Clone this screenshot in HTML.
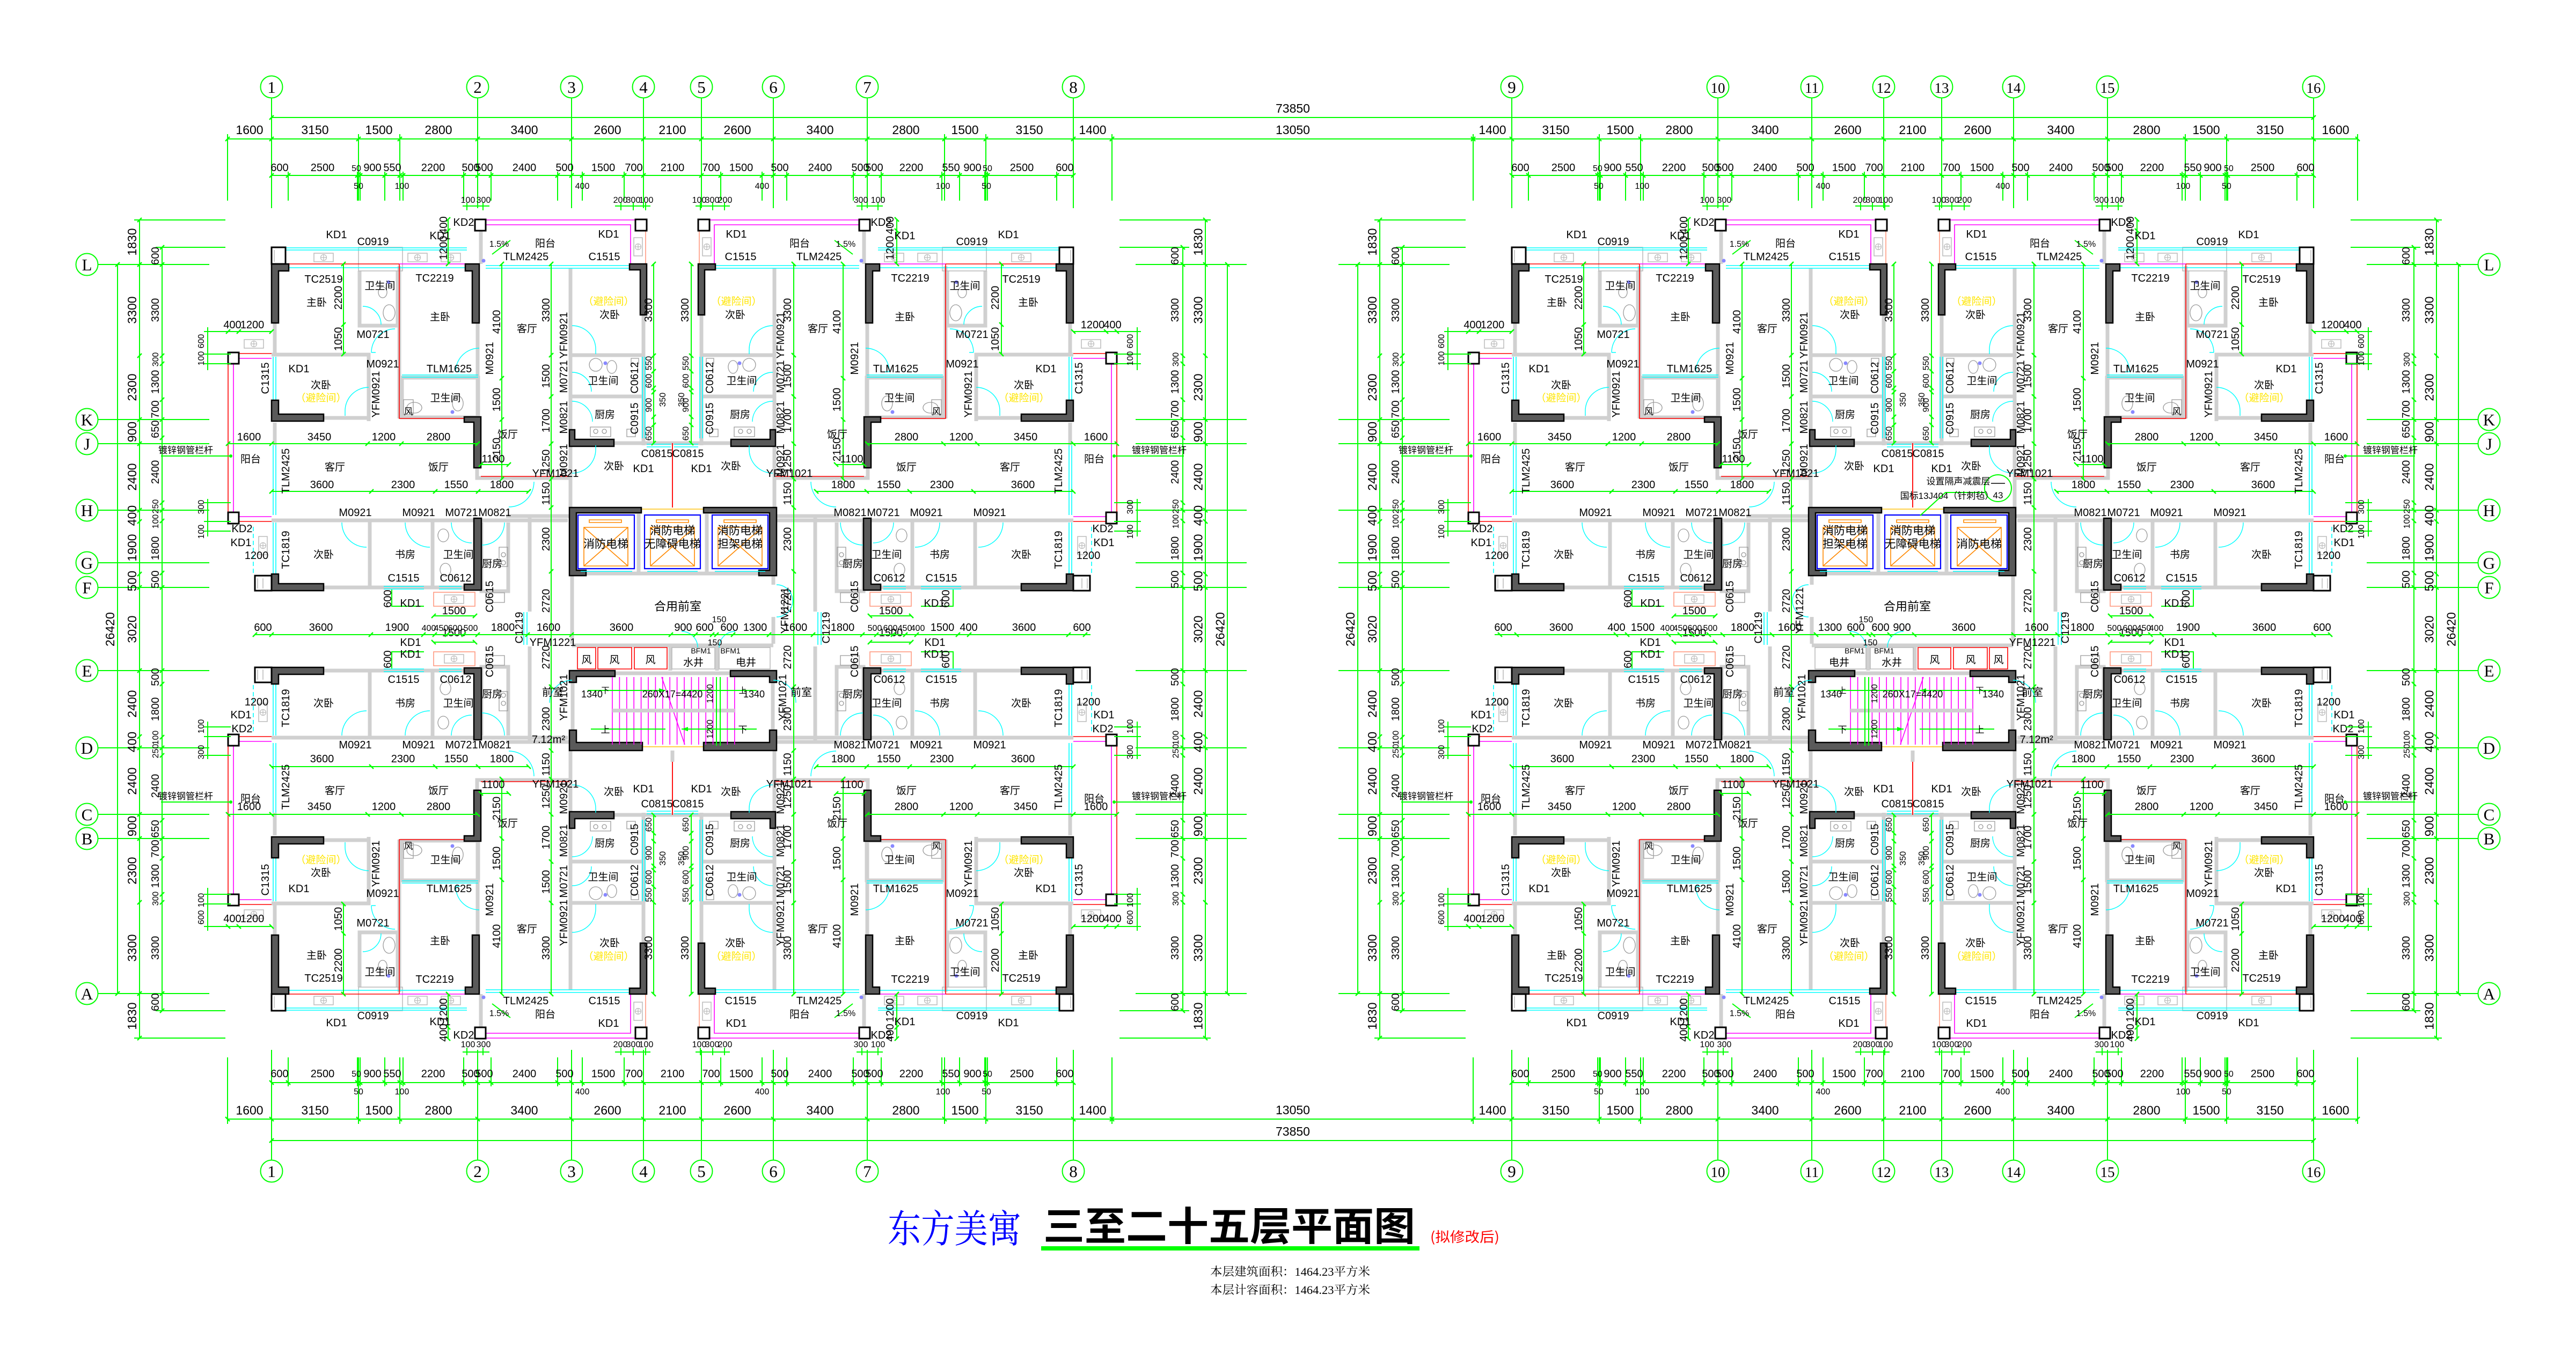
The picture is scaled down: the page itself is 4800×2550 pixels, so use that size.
<!DOCTYPE html>
<html><head><meta charset="utf-8">
<style>
html,body{margin:0;padding:0;background:#fff;}
svg{display:block}
text{font-family:"Liberation Sans Narrow","Liberation Sans","Noto Sans CJK SC",sans-serif;font-stretch:condensed;text-anchor:middle;fill:#000;transform-box:fill-box;transform-origin:50% 50%;transform:scale(var(--sx,1),var(--sy,1));}
text.v{transform:scale(var(--sy,1),var(--sx,1));}
.oa text{transform-origin:50% calc(0.905em + 9px)}
.ob text{transform-origin:50% calc(0.905em + 8px)}
.oc text{transform-origin:50% calc(0.905em - 25px)}
.od text{transform-origin:50% calc(0.905em + 6px)}
.ov6 text{transform-origin:50% calc(0.905em + 6px)}
.ov3 text{transform-origin:50% calc(0.905em + 3px)}
.n{font-size:20px}
.m{font-size:23px}
.s{font-size:16px}
.c{font-family:"Liberation Sans","Noto Sans CJK SC",sans-serif;font-size:19px}
.yt{fill:#ffe600}
.ax{font-family:"Liberation Serif","DejaVu Serif",serif;font-size:31px}
.st{text-anchor:start}
.w{fill:none;stroke:#d0d0d0;stroke-width:7}
.gw{fill:none;stroke:#b8b8b8;stroke-width:1.5}
.k{fill:#5a5a5a;stroke:#000;stroke-width:2.5}
.bx{fill:#fff;stroke:#000;stroke-width:3}
.g{fill:none;stroke:#00ff00;stroke-width:2}
.tk{fill:none;stroke:#00ff00;stroke-width:2.4}
.cy{fill:none;stroke:#00ffff;stroke-width:1.6}
.rd{fill:none;stroke:#ff0000;stroke-width:1.6}
.pk{fill:none;stroke:#ff00ff;stroke-width:1.6}
.sa{fill:none;stroke:#ff9980;stroke-width:1.6}
.yl{fill:none;stroke:#ffcc33;stroke-width:1.8}
.dr{fill:none;stroke:#00ffff;stroke-width:1.4}
.fx{fill:none;stroke:#9a9a9a;stroke-width:1.3}
.bu{fill:none;stroke:#0000ff;stroke-width:2.2}
.or{fill:none;stroke:#ff8800;stroke-width:1.6}
.acir{fill:#fff;stroke:#00ff00;stroke-width:2}
</style></head>
<body>
<svg width="4800" height="2550" viewBox="0 0 4800 2550" xmlns="http://www.w3.org/2000/svg" xmlns:xlink="http://www.w3.org/1999/xlink">
<defs>
<g id="ac"><rect width="36" height="16" fill="none" stroke="#bbb" stroke-width="1.5"/><circle cx="18" cy="8" r="5.5" fill="none" stroke="#bbb" stroke-width="1.2"/><path d="M12.5 8h11M18 2.5v11" stroke="#bbb" stroke-width="1.2"/></g>
<g id="acv"><rect width="16" height="34" fill="none" stroke="#bbb" stroke-width="1.5"/><circle cx="8" cy="17" r="5.5" fill="none" stroke="#bbb" stroke-width="1.2"/><path d="M2.5 17h11M8 11.5v11" stroke="#bbb" stroke-width="1.2"/></g>

<!-- ================= UNIT (top-left quarter) ================= -->
<g id="U">
<path class="w" d="M512 602V662M506 661H687V785M603 779H687M670 505V607H741V505M744 496V780M749 704V778H891V704ZM890 602V777M889 872V891H1063M1063 500V946M1066 662H1199M1066 739H1199M1199 587V830M1144 826H1253M512 788V830M506 970H1058M689 970V1095M806 970V1095M603 1095H865M897 974V1102H947V974M987 962V1140M943 962H1061M896 430V492"/>
<rect class="gw" x="668" y="461" width="82" height="44"/>
<path class="cy" d="M532 462H870M532 466H870M538 499H870M905 495H1173M905 500H1173M509 665V746M514 665V746M509 830V960M514 830V960M509 974V1070M514 974V1070M749 699H891M749 703H891M1197 665V817M1202 665V817M1205 828H1250M1205 833H1250M715 1093H790M715 1098H790M818 1093H860M818 1098H860"/>
<path class="cy" stroke-dasharray="8 5" d="M472 982V1070"/>
<path class="rd" d="M538 492H744V780H867M425 678V955M445 659H506M445 972H506M896 888H1061M1253 826V946"/>
<path class="pk" d="M744 492H870M905 410H1184M905 419H1175V492M435 678V955M445 668H506M445 963H506"/>
<path class="sa" d="M1203 430V492"/>
<rect class="sa" x="808" y="1104" width="77" height="26"/>
<path class="k" d="M506 492H538V505H519V602H506Z"/>
<path class="k" d="M506 746H519V772H603V785H506Z"/>
<path class="k" d="M867 492H893V602H880V505H867Z"/>
<path class="k" d="M865 777H896V872H883V787H865Z"/>
<path class="k" d="M1173 492H1205V587H1193V503H1173Z"/>
<path class="k" d="M1061 801H1071V819H1144V832H1061Z"/>
<path class="k" d="M506 1070H519V1088H603V1101H506Z"/>
<path class="k" d="M883 966H897V1100H865V1089H883Z"/>
<rect class="bx" x="506" y="461" width="26" height="31"/>
<rect class="bx" x="885" y="409" width="20" height="21"/>
<rect class="bx" x="1184" y="409" width="21" height="21"/>
<rect class="bx" x="425" y="657" width="20" height="21"/>
<rect class="bx" x="425" y="955" width="20" height="21"/>
<rect class="bx" x="475" y="1073" width="31" height="28"/>
<path class="gw" d="M511 466V488M480 1078V1097M490 1078V1097"/>
<use href="#ac" x="585" y="472"/><use href="#ac" x="760" y="472"/><use href="#ac" x="822" y="472"/>
<use href="#ac" x="455" y="633"/><use href="#ac" x="828" y="1109"/>
<use href="#acv" x="1181" y="443"/><use href="#acv" x="482" y="1000"/>
<path class="dr" d="M687 722A44 44 0 0 0 643 766M736 613A44 44 0 0 0 692 657M893 649A44 44 0 0 0 849 693M1066 607A44 44 0 0 1 1110 651M1066 694A36 36 0 0 1 1102 730M1066 748A38 38 0 0 1 1104 786M1066 882A44 44 0 0 0 1110 838M995 898A47 47 0 0 1 948 945M637 974A46 46 0 0 0 683 1020M755 974A46 46 0 0 0 801 1020M841 974A38 38 0 0 0 879 1012M940 974A42 42 0 0 1 898 1016M676 571A34 34 0 0 1 710 605M643 766V775M692 657H700M849 693H857M1110 651V660M1110 838V830"/>
<path class="fx" d="M713 535a8 10 0 1 0 .1 0M725 568a11 15 0 1 0 .1 0M772 750a14 10 0 1 0 .1 0M853 738a10 14 0 1 0 .1 0M752 745h18v28h-18zM930 1020h16v36h-16zM938 1030a4 4 0 1 0 .1 0M938 1045a4 4 0 1 0 .1 0M905 1105h35v18h-35zM1110 668a12 12 0 1 0 .1 0M1140 672a9 12 0 1 0 .1 0M1176 668h14v10h-14zM1100 796h38v18h-38zM1110 800a4 4 0 1 0 .1 0M1126 800a4 4 0 1 0 .1 0M1168 800h16v14h-16zM826 986a10 12 0 1 0 .1 0M830 1050a10 12 0 1 0 .1 0"/>
<circle cx="901" cy="486" r="3.5" fill="#88f"/><circle cx="724" cy="526" r="3.5" fill="#88f"/><circle cx="843" cy="768" r="3.5" fill="#88f"/><circle cx="1128" cy="677" r="3.5" fill="#88f"/>
<path class="g" d="M917 474L951 448M425 827H890M506 916H985M935 492V893M1027 492V1172M640 492V660M896 866H948M808 1148H885M730 1099V1130H790M835 409V492M425 618H506M1218 492V826"/>
<path class="tk" d="M421 831l8-8M502 831l8-8M681 831l8-8M744 831l8-8M886 831l8-8M502 920l8-8M688 920l8-8M807 920l8-8M887 920l8-8M981 920l8-8M931 496l8-8M931 709l8-8M931 786l8-8M931 897l8-8M1023 496l8-8M1023 666l8-8M1023 743l8-8M1023 831l8-8M1023 897l8-8M1023 950l8-8M1023 1069l8-8M636 496l8-8M636 609l8-8M636 664l8-8M892 870l8-8M944 870l8-8M804 1152l8-8M881 1152l8-8M831 413l8-8M831 434l8-8M831 496l8-8M421 622l8-8M441 622l8-8M502 622l8-8M1214 496l8-8M1214 667l8-8M1214 696l8-8M1214 727l8-8M1214 735l8-8M1214 781l8-8M1214 796l8-8M1214 830l8-8"/>
<text class="c" x="590" y="570">主卧</text>
<text class="c" x="708" y="539">卫生间</text>
<text class="c" x="820" y="597">主卧</text>
<text class="c" x="598" y="724">次卧</text>
<text class="c yt" x="598" y="748">（避险间）</text>
<text class="c" x="830" y="748">卫生间</text>
<text class="c" x="761" y="773" style="font-size:17px">风</text>
<text class="c" x="982" y="619">客厅</text>
<text class="c yt" x="1134" y="568">（避险间）</text>
<text class="c" x="1136" y="593">次卧</text>
<text class="c" x="1124" y="716">卫生间</text>
<text class="c" x="1127" y="779">厨房</text>
<text class="c" x="1144" y="875">次卧</text>
<text class="c" x="946" y="816">饭厅</text>
<text class="c" x="467" y="862">阳台</text>
<text class="c" x="624" y="877">客厅</text>
<text class="c" x="817" y="877">饭厅</text>
<text class="c" x="603" y="1040">次卧</text>
<text class="c" x="755" y="1040">书房</text>
<text class="c" x="854" y="1040">卫生间</text>
<text class="c" x="917" y="1057">厨房</text>
<text class="c" x="1016" y="460">阳台</text>
<text class="n" x="627" y="444">KD1</text>
<text class="n" x="695" y="457">C0919</text>
<text class="n" x="820" y="446">KD1</text>
<text class="n" x="864" y="421">KD2</text>
<text class="n" x="603" y="527">TC2519</text>
<text class="n" x="810" y="525">TC2219</text>
<text class="n" x="695" y="630">M0721</text>
<text class="n" x="713" y="685">M0921</text>
<text class="n" x="557" y="694">KD1</text>
<text class="n" x="837" y="694">TLM1625</text>
<text class="s" x="930" y="460">1.5%</text>
<text class="n" x="980" y="485">TLM2425</text>
<text class="n" x="1134" y="443">KD1</text>
<text class="n" x="1126" y="485">C1515</text>
<text class="n" x="1199" y="880">KD1</text>
<text class="n" x="1224" y="852">C0815</text>
<text class="n" x="662" y="962">M0921</text>
<text class="n" x="780" y="962">M0921</text>
<text class="n" x="860" y="962">M0721</text>
<text class="n" x="922" y="962">M0821</text>
<text class="n" x="451" y="992">KD2</text>
<text class="n" x="449" y="1018">KD1</text>
<text class="n" x="478" y="1042">1200</text>
<text class="n" x="752" y="1084">C1515</text>
<text class="n" x="849" y="1084">C0612</text>
<text class="n" x="765" y="1131">KD1</text>
<text class="n" x="1035" y="889">YFM1021</text>
<g class="ov6">
<text class="n" x="919" y="862">1100</text>
<text class="n" x="464" y="821">1600</text>
<text class="n" x="595" y="821">3450</text>
<text class="n" x="715" y="821">1200</text>
<text class="n" x="817" y="821">2800</text>
<text class="n" x="600" y="910">3600</text>
<text class="n" x="751" y="910">2300</text>
<text class="n" x="850" y="910">1550</text>
<text class="n" x="935" y="910">1800</text>
<text class="n" x="846" y="1145">1500</text>
<text class="n" x="470" y="612">1200</text>
<text class="n" x="433" y="612">400</text>
</g>
<g class="ov3">
<g transform="rotate(-90 630 555)"><text class="n v" x="630" y="562">2200</text></g>
<g transform="rotate(-90 630 632)"><text class="n v" x="630" y="639">1050</text></g>
<g transform="rotate(-90 925 600)"><text class="n v" x="925" y="607">4100</text></g>
<g transform="rotate(-90 925 745)"><text class="n v" x="925" y="752">1500</text></g>
<g transform="rotate(-90 925 838)"><text class="n v" x="925" y="845">2150</text></g>
<g transform="rotate(-90 1017 578)"><text class="n v" x="1017" y="585">3300</text></g>
<g transform="rotate(-90 1017 701)"><text class="n v" x="1017" y="708">1500</text></g>
<g transform="rotate(-90 1017 784)"><text class="n v" x="1017" y="791">1700</text></g>
<g transform="rotate(-90 1017 860)"><text class="n v" x="1017" y="867">1250</text></g>
<g transform="rotate(-90 1017 920)"><text class="n v" x="1017" y="927">1150</text></g>
<g transform="rotate(-90 1017 1005)"><text class="n v" x="1017" y="1012">2300</text></g>
<g transform="rotate(-90 1017 1120)"><text class="n v" x="1017" y="1127">2720</text></g>
<g transform="rotate(-90 826 462)"><text class="n v" x="826" y="469">1200</text></g>
<g transform="rotate(-90 826 420)"><text class="n v" x="826" y="427">400</text></g>
<g transform="rotate(-90 722 1116)"><text class="n v" x="722" y="1123">600</text></g>
<g transform="rotate(-90 1208 578)"><text class="n v" x="1208" y="585">3300</text></g>
<g transform="rotate(-90 1208 677)"><text class="s v" x="1208" y="683">550</text></g>
<g transform="rotate(-90 1208 710)"><text class="s v" x="1208" y="716">600</text></g>
<g transform="rotate(-90 1208 755)"><text class="s v" x="1208" y="761">900</text></g>
<g transform="rotate(-90 1208 808)"><text class="s v" x="1208" y="814">650</text></g>
</g>
<g transform="rotate(-90 494 705)"><text class="n v" x="494" y="712">C1315</text></g>
<g transform="rotate(-90 700 735)"><text class="n v" x="700" y="742">YFM0921</text></g>
<g transform="rotate(-90 912 668)"><text class="n v" x="912" y="675">M0921</text></g>
<g transform="rotate(-90 1050 625)"><text class="n v" x="1050" y="632">YFM0921</text></g>
<g transform="rotate(-90 1050 702)"><text class="n v" x="1050" y="709">M0721</text></g>
<g transform="rotate(-90 1050 778)"><text class="n v" x="1050" y="785">M0821</text></g>
<g transform="rotate(-90 1050 858)"><text class="n v" x="1050" y="865">M0921</text></g>
<g transform="rotate(-90 1182 704)"><text class="n v" x="1182" y="711">C0612</text></g>
<g transform="rotate(-90 1182 780)"><text class="n v" x="1182" y="787">C0915</text></g>
<g transform="rotate(-90 532 878)"><text class="n v" x="532" y="885">TLM2425</text></g>
<g transform="rotate(-90 532 1025)"><text class="n v" x="532" y="1032">TC1819</text></g>
<g transform="rotate(-90 912 1112)"><text class="n v" x="912" y="1119">C0615</text></g>
<g transform="rotate(-90 1234 745)"><text class="s v" x="1234" y="751">350</text></g>
</g>

<!-- ================= CORE (left building) ================= -->
<g id="CORE">
<path class="w" d="M1190 958V1070M1317 958V1070M1092 1069H1414M1066 1073V1200M1441 1073V1090M1441 1150V1200M1066 1203H1441M1146 1255H1361M1067 1272V1361M1440 1272V1361M1253 1399V1420M1249 1203V1250M1336 1203V1250"/>
<path class="yl" d="M1195 949H1311M1197 1392H1311"/>
<path class="k" d="M1061 946H1195V956H1074V1063H1092V1073H1061Z"/>
<path class="k" d="M1311 946H1447V1073H1414V1063H1434V956H1311Z"/>
<path class="bu" d="M1077 960h105v100h-105zM1201 960h104v100h-104zM1327 960h104v100h-104z"/>
<path class="or" d="M1088 983h82v72h-82zM1088 983l82 72M1170 983l-82 72M1098 969h60v5h-60zM1212 983h82v72h-82zM1212 983l82 72M1294 983l-82 72M1223 969h60v5h-60zM1338 983h82v72h-82zM1338 983l82 72M1420 983l-82 72M1349 969h60v5h-60z"/>
<path class="cy" d="M1082 1065H1178M1206 1065H1300M1332 1065H1426M976 1141V1202M982 1141V1202M1524 1141V1202M1530 1141V1202"/>
<path class="rd" d="M1076 1207h34v40h-34zM1114 1207h63v40h-63zM1182 1207h61v40h-61z"/>
<path class="gw" d="M1252 1207h80v40h-80zM1340 1207h95v40h-95z"/>
<path class="k" d="M1061 1250H1146V1261H1074V1272H1061Z"/>
<path class="k" d="M1361 1250H1447V1272H1434V1261H1361Z"/>
<path class="k" d="M1061 1361H1074V1384H1197V1399H1061Z"/>
<path class="k" d="M1311 1384H1434V1361H1447V1399H1311Z"/>
<path class="pk" d="M1141 1262V1388M1154.4 1262V1388M1167.8 1262V1388M1181.2 1262V1388M1194.6 1262V1388M1208 1262V1388M1221.4 1262V1388M1234.8 1262V1388M1248.2 1262V1388M1261.6 1262V1388M1275 1262V1388M1288.4 1262V1388M1301.8 1262V1388M1315.2 1262V1388M1328.6 1262V1388M1342 1262V1388M1355.4 1262V1388M1368.8 1262V1388M1233 1262L1276 1388"/>
<rect x="1141" y="1321" width="228" height="7" fill="#d0d0d0"/>
<path class="g" d="M1095 1287H1240M1270 1287H1410M1101 1359H1240M1270 1359H1410M1335 1262V1390M1342 1262V1390"/>
<path d="M1240 1287l-12-4v8zM1270 1359l12-4v8z" fill="#00ff00"/>
<path class="dr" d="M1447 1090A30 30 0 0 1 1477 1120M1447 1150A30 30 0 0 0 1477 1120M1066 1268A42 42 0 0 0 1024 1310M1441 1268A42 42 0 0 1 1483 1310M1300 1207A30 30 0 0 0 1270 1177M1340 1207A30 30 0 0 1 1370 1177"/>
<path class="g" d="M475 1183H2032"/>
<path class="tk" d="M471 1187l8-8M502 1187l8-8M687 1187l8-8M785 1187l8-8M806 1187l8-8M829 1187l8-8M860 1187l8-8M886 1187l8-8M979 1187l8-8M1061 1187l8-8M1246 1187l8-8M1292 1187l8-8M1323 1187l8-8M1331 1187l8-8M1362 1187l8-8M1429 1187l8-8M1511 1187l8-8M1603 1187l8-8M1629 1187l8-8M1660 1187l8-8M1683 1187l8-8M1704 1187l8-8M1781 1187l8-8M1802 1187l8-8M1987 1187l8-8M2018 1187l8-8"/>
<text class="n" x="490" y="1176">600</text><text class="n" x="598" y="1176">3600</text><text class="n" x="740" y="1176">1900</text><text class="s" x="799" y="1176">400</text><text class="s" x="822" y="1176">450</text><text class="s" x="848" y="1176">600</text><text class="s" x="877" y="1176">500</text><text class="n" x="937" y="1176">1800</text><text class="n" x="1022" y="1176">1600</text><text class="n" x="1158" y="1176">3600</text><text class="n" x="1273" y="1176">900</text><text class="n" x="1313" y="1176">600</text><text class="n" x="1359" y="1176">600</text><text class="n" x="1407" y="1176">1300</text><text class="n" x="1482" y="1176">1600</text><text class="n" x="1570" y="1176">1800</text><text class="s" x="1630" y="1176">500</text><text class="s" x="1659" y="1176">600</text><text class="s" x="1686" y="1176">450</text><text class="s" x="1710" y="1176">400</text><text class="n" x="1756" y="1176">1500</text><text class="n" x="1805" y="1176">400</text><text class="n" x="1908" y="1176">3600</text><text class="n" x="2016" y="1176">600</text>
<text class="s" x="1340" y="1160">150</text><text class="s" x="1332" y="1203">150</text>
<text class="n" x="765" y="1204">KD1</text><text class="n" x="1742" y="1204">KD1</text><text class="n" x="1030" y="1204">YFM1221</text>
<g transform="rotate(-90 967 1170)"><text class="n v" x="967" y="1177">C1219</text></g>
<g transform="rotate(-90 1539 1170)"><text class="n v" x="1539" y="1177">C1219</text></g>
<g transform="rotate(-90 1462 1138)"><text class="n v" x="1462" y="1145">YFM1221</text></g>
<text class="c" x="1129" y="1021" style="font-size:21px">消防电梯</text>
<text class="c" x="1253" y="996" style="font-size:21px">消防电梯</text>
<text class="c" x="1253" y="1021" style="font-size:21px">无障碍电梯</text>
<text class="c" x="1379" y="996" style="font-size:21px">消防电梯</text>
<text class="c" x="1379" y="1021" style="font-size:21px">担架电梯</text>
<text class="c" x="1263" y="1138" style="font-size:22px">合用前室</text>
<text class="c" x="1093" y="1236">风</text><text class="c" x="1145" y="1236">风</text><text class="c" x="1212" y="1236">风</text>
<text class="c" x="1292" y="1241">水井</text><text class="c" x="1390" y="1241">电井</text>
<text class="s" x="1306" y="1218" style="font-size:14px">BFM1</text><text class="s" x="1361" y="1218" style="font-size:14px">BFM1</text>
<text class="n" x="1103" y="1300" style="font-size:18px">1340</text>
<text class="c" x="1128" y="1292" style="font-size:15px">下</text>
<text class="n" x="1253" y="1300" style="font-size:18px">260X17=4420</text>
<text class="c" x="1384" y="1292" style="font-size:15px">上</text>
<text class="n" x="1405" y="1300" style="font-size:18px">1340</text>
<text class="c" x="1128" y="1366" style="font-size:17px">上</text>
<text class="c" x="1384" y="1366" style="font-size:17px">下</text>
<g transform="rotate(-90 1322 1293)"><text class="s v" x="1322" y="1299">1200</text></g>
<g transform="rotate(-90 1322 1359)"><text class="s v" x="1322" y="1365">1200</text></g>
<text class="c" x="1030" y="1297" style="font-size:20px">前室</text>
<text class="c" x="1493" y="1297" style="font-size:20px">前室</text>
<text class="c" x="1022" y="1385" style="font-size:20px">7.12m²</text>
<g transform="rotate(-90 1050 1300)"><text class="n v" x="1050" y="1307">YFM1021</text></g>
<g transform="rotate(-90 1458 1300)"><text class="n v" x="1458" y="1307">YFM1021</text></g>
</g>

<!-- ================= TOP DIMENSIONS (left building) ================= -->
<g id="DT">
<path class="g" d="M506 183V388M890 183V388M1065 183V388M1199 183V388M1307 183V388M1441 183V388M1616 183V388M2000 183V388M424 259H2072M506 327H2000M424 250V374M668 250V374M745 250V374M1760 250V374M1837 250V374M2072 250V374M537 320V374M666 320V374M671 320V374M717 320V374M751 320V374M864 320V374M915 320V374M1039 320V374M1085 320V374M1163 320V374M1343 320V374M1420 320V374M1466 320V374M1590 320V374M1642 320V374M1755 320V374M1788 320V374M1835 320V374M1840 320V374M1969 320V374M862 384H912M1146 384H1212M1296 384H1360M1596 384H1645M870 378V392M900 378V392M1157 378V392M1180 378V392M1203 378V392M1305 378V392M1328 378V392M1350 378V392M1606 378V392M1636 378V392"/>
<path class="tk" d="M420 263l8-8M502 263l8-8M664 263l8-8M741 263l8-8M886 263l8-8M1061 263l8-8M1195 263l8-8M1303 263l8-8M1437 263l8-8M1612 263l8-8M1756 263l8-8M1833 263l8-8M1996 263l8-8M2068 263l8-8M502 331l8-8M533 331l8-8M662 331l8-8M667 331l8-8M713 331l8-8M741 331l8-8M747 331l8-8M860 331l8-8M886 331l8-8M911 331l8-8M1035 331l8-8M1061 331l8-8M1081 331l8-8M1159 331l8-8M1195 331l8-8M1303 331l8-8M1339 331l8-8M1416 331l8-8M1437 331l8-8M1462 331l8-8M1586 331l8-8M1612 331l8-8M1638 331l8-8M1751 331l8-8M1784 331l8-8M1831 331l8-8M1836 331l8-8M1965 331l8-8M1996 331l8-8"/>
<g class="oa">
<text class="m" x="465" y="250">1600</text><text class="m" x="587" y="250">3150</text><text class="m" x="706" y="250">1500</text><text class="m" x="817" y="250">2800</text><text class="m" x="977" y="250">3400</text><text class="m" x="1132" y="250">2600</text><text class="m" x="1253" y="250">2100</text><text class="m" x="1374" y="250">2600</text><text class="m" x="1528" y="250">3400</text><text class="m" x="1688" y="250">2800</text><text class="m" x="1798" y="250">1500</text><text class="m" x="1918" y="250">3150</text><text class="m" x="2036" y="250">1400</text>
</g>
<g class="ob">
<text class="n" x="521" y="319">600</text><text class="n" x="601" y="319">2500</text><text class="s" x="664" y="319">50</text><text class="n" x="694" y="319">900</text><text class="n" x="731" y="319">550</text><text class="n" x="807" y="319">2200</text><text class="n" x="877" y="319">500</text><text class="n" x="902" y="319">500</text><text class="n" x="977" y="319">2400</text><text class="n" x="1052" y="319">500</text><text class="n" x="1124" y="319">1500</text><text class="n" x="1181" y="319">700</text><text class="n" x="1253" y="319">2100</text><text class="n" x="1325" y="319">700</text><text class="n" x="1381" y="319">1500</text><text class="n" x="1453" y="319">500</text><text class="n" x="1528" y="319">2400</text><text class="n" x="1603" y="319">500</text><text class="n" x="1629" y="319">500</text><text class="n" x="1698" y="319">2200</text><text class="n" x="1772" y="319">550</text><text class="n" x="1812" y="319">900</text><text class="s" x="1840" y="319">50</text><text class="n" x="1904" y="319">2500</text><text class="n" x="1984" y="319">600</text>
</g>
<g class="oc">
<text class="s" x="668" y="352">50</text><text class="s" x="749" y="352">100</text><text class="s" x="1085" y="352">400</text><text class="s" x="1420" y="352">400</text><text class="s" x="1757" y="352">100</text><text class="s" x="1838" y="352">50</text>
</g>
<g class="od">
<text class="s" x="872" y="378">100</text><text class="s" x="901" y="378">300</text><text class="s" x="1156" y="378">200</text><text class="s" x="1180" y="378">300</text><text class="s" x="1204" y="378">100</text><text class="s" x="1303" y="378">100</text><text class="s" x="1327" y="378">300</text><text class="s" x="1351" y="378">200</text><text class="s" x="1604" y="378">300</text><text class="s" x="1636" y="378">100</text>
</g>
</g>

<!-- ================= SIDE DIMENSIONS ================= -->
<g id="VD">
<path class="g" d="M183 493H390M183 782H390M183 827H390M183 951H390M183 1049H390M183 1095H390M183 1250H390M183 1394H390M183 1518H390M183 1563H390M183 1852H390M250 410H420M250 1935H420M290 461H420M290 1884H420M219 493V1852M260 410V1935M302 461V1884M380 618H430M380 660H430M380 678H430M387 610V690M380 937H430M380 972H430M380 990H430M387 930V1000M380 1355H430M380 1373H430M380 1408H430M387 1345V1415M380 1667H430M380 1685H430M380 1727H430M387 1655V1735M300 850H430M300 1495H430"/>
<circle cx="430" cy="850" r="3" fill="#00ff00"/><circle cx="430" cy="1495" r="3" fill="#00ff00"/>
<path class="tk" d="M215 497l8-8M215 1856l8-8M256 414l8-8M256 497l8-8M256 667l8-8M256 786l8-8M256 831l8-8M256 955l8-8M256 976l8-8M256 1074l8-8M256 1099l8-8M256 1254l8-8M256 1377l8-8M256 1398l8-8M256 1522l8-8M256 1567l8-8M256 1686l8-8M256 1856l8-8M256 1939l8-8M298 465l8-8M298 497l8-8M298 667l8-8M298 682l8-8M298 749l8-8M298 786l8-8M298 820l8-8M298 941l8-8M298 955l8-8M298 975l8-8M298 1072l8-8M298 1099l8-8M298 1254l8-8M298 1279l8-8M298 1378l8-8M298 1398l8-8M298 1412l8-8M298 1533l8-8M298 1567l8-8M298 1604l8-8M298 1671l8-8M298 1686l8-8M298 1856l8-8M298 1888l8-8"/>
<g class="ov6">
<g transform="rotate(-90 205 1173)"><text class="m v" x="205" y="1181">26420</text></g>
<g transform="rotate(-90 246 451)"><text class="m v" x="246" y="459">1830</text></g>
<g transform="rotate(-90 246 578)"><text class="m v" x="246" y="586">3300</text></g>
<g transform="rotate(-90 246 722)"><text class="m v" x="246" y="730">2300</text></g>
<g transform="rotate(-90 246 805)"><text class="m v" x="246" y="813">900</text></g>
<g transform="rotate(-90 246 889)"><text class="m v" x="246" y="897">2400</text></g>
<g transform="rotate(-90 246 961)"><text class="m v" x="246" y="969">400</text></g>
<g transform="rotate(-90 246 1021)"><text class="m v" x="246" y="1029">1900</text></g>
<g transform="rotate(-90 246 1083)"><text class="m v" x="246" y="1091">500</text></g>
<g transform="rotate(-90 246 1173)"><text class="m v" x="246" y="1181">3020</text></g>
<g transform="rotate(-90 246 1312)"><text class="m v" x="246" y="1320">2400</text></g>
<g transform="rotate(-90 246 1383)"><text class="m v" x="246" y="1391">400</text></g>
<g transform="rotate(-90 246 1456)"><text class="m v" x="246" y="1464">2400</text></g>
<g transform="rotate(-90 246 1540)"><text class="m v" x="246" y="1548">900</text></g>
<g transform="rotate(-90 246 1623)"><text class="m v" x="246" y="1631">2300</text></g>
<g transform="rotate(-90 246 1767)"><text class="m v" x="246" y="1775">3300</text></g>
<g transform="rotate(-90 246 1894)"><text class="m v" x="246" y="1902">1830</text></g>
<g transform="rotate(-90 289 477)"><text class="n v" x="289" y="484">600</text></g>
<g transform="rotate(-90 289 578)"><text class="n v" x="289" y="585">3300</text></g>
<g transform="rotate(-90 289 670)"><text class="s v" x="289" y="676">300</text></g>
<g transform="rotate(-90 289 712)"><text class="n v" x="289" y="719">1300</text></g>
<g transform="rotate(-90 289 763)"><text class="n v" x="289" y="770">700</text></g>
<g transform="rotate(-90 289 800)"><text class="n v" x="289" y="807">650</text></g>
<g transform="rotate(-90 289 880)"><text class="n v" x="289" y="887">2400</text></g>
<g transform="rotate(-90 289 944)"><text class="s v" x="289" y="950">250</text></g>
<g transform="rotate(-90 289 972)"><text class="s v" x="289" y="978">100</text></g>
<g transform="rotate(-90 289 1022)"><text class="n v" x="289" y="1029">1800</text></g>
<g transform="rotate(-90 289 1080)"><text class="n v" x="289" y="1087">500</text></g>
<g transform="rotate(-90 289 1262)"><text class="n v" x="289" y="1269">500</text></g>
<g transform="rotate(-90 289 1322)"><text class="n v" x="289" y="1329">1800</text></g>
<g transform="rotate(-90 289 1375)"><text class="s v" x="289" y="1381">100</text></g>
<g transform="rotate(-90 289 1400)"><text class="s v" x="289" y="1406">250</text></g>
<g transform="rotate(-90 289 1465)"><text class="n v" x="289" y="1472">2400</text></g>
<g transform="rotate(-90 289 1545)"><text class="n v" x="289" y="1552">650</text></g>
<g transform="rotate(-90 289 1582)"><text class="n v" x="289" y="1589">700</text></g>
<g transform="rotate(-90 289 1633)"><text class="n v" x="289" y="1640">1300</text></g>
<g transform="rotate(-90 289 1675)"><text class="s v" x="289" y="1681">300</text></g>
<g transform="rotate(-90 289 1767)"><text class="n v" x="289" y="1774">3300</text></g>
<g transform="rotate(-90 289 1868)"><text class="n v" x="289" y="1875">600</text></g>
<g transform="rotate(-90 374 636)"><text class="s v" x="374" y="642">600</text></g>
<g transform="rotate(-90 374 668)"><text class="s v" x="374" y="674">100</text></g>
<g transform="rotate(-90 374 945)"><text class="s v" x="374" y="951">300</text></g>
<g transform="rotate(-90 374 991)"><text class="s v" x="374" y="997">100</text></g>
<g transform="rotate(-90 374 1354)"><text class="s v" x="374" y="1360">100</text></g>
<g transform="rotate(-90 374 1402)"><text class="s v" x="374" y="1408">300</text></g>
<g transform="rotate(-90 374 1678)"><text class="s v" x="374" y="1684">100</text></g>
<g transform="rotate(-90 374 1710)"><text class="s v" x="374" y="1716">600</text></g>
</g>
<text class="c" x="346" y="845" style="font-size:17px">镀锌钢管栏杆</text>
<text class="c" x="346" y="1490" style="font-size:17px">镀锌钢管栏杆</text>
</g>
</defs>

<rect width="4800" height="2550" fill="#fff"/>

<!-- units -->
<use href="#U"/>
<use href="#U" transform="translate(2506,0) scale(-1,1)" style="--sx:-1"/>
<use href="#U" transform="translate(0,2345) scale(1,-1)" style="--sy:-1"/>
<use href="#U" transform="translate(2506,2345) scale(-1,-1)" style="--sx:-1;--sy:-1"/>
<use href="#U" transform="translate(2311,0)"/>
<use href="#U" transform="translate(4817,0) scale(-1,1)" style="--sx:-1"/>
<use href="#U" transform="translate(2311,2345) scale(1,-1)" style="--sy:-1"/>
<use href="#U" transform="translate(4817,2345) scale(-1,-1)" style="--sx:-1;--sy:-1"/>
<!-- cores -->
<use href="#CORE"/>
<use href="#CORE" transform="translate(4817,0) scale(-1,1)" style="--sx:-1"/>
<!-- dims -->
<use href="#DT"/>
<use href="#DT" transform="translate(0,2345) scale(1,-1)" style="--sy:-1"/>
<use href="#DT" transform="translate(4817,0) scale(-1,1)" style="--sx:-1"/>
<use href="#DT" transform="translate(4817,2345) scale(-1,-1)" style="--sx:-1;--sy:-1"/>
<use href="#VD"/>
<use href="#VD" transform="translate(2506,0) scale(-1,1)" style="--sx:-1"/>
<use href="#VD" transform="translate(2311,0)"/>
<use href="#VD" transform="translate(4800,0) scale(-1,1)" style="--sx:-1"/>

<!-- overall dims -->
<path class="g" d="M506 219H4311M506 2126H4311M2072 259H2745M2072 2086H2745M2745 250V374M2745 1971V2095"/>
<path class="tk" d="M502 223l8-8M4307 223l8-8M502 2130l8-8M4307 2130l8-8M2068 263l8-8M2741 263l8-8M2068 2090l8-8M2741 2090l8-8"/>
<text class="m" x="2409" y="210">73850</text>
<text class="m" x="2409" y="250">13050</text>
<text class="m" x="2409" y="2117">73850</text>
<text class="m" x="2409" y="2077">13050</text>

<!-- axis bubbles -->
<g>
<circle class="acir" cx="506" cy="162" r="20.5"/><circle class="acir" cx="890" cy="162" r="20.5"/><circle class="acir" cx="1065" cy="162" r="20.5"/><circle class="acir" cx="1199" cy="162" r="20.5"/><circle class="acir" cx="1307" cy="162" r="20.5"/><circle class="acir" cx="1441" cy="162" r="20.5"/><circle class="acir" cx="1616" cy="162" r="20.5"/><circle class="acir" cx="2000" cy="162" r="20.5"/>
<circle class="acir" cx="2817" cy="162" r="20.5"/><circle class="acir" cx="3201" cy="162" r="20.5"/><circle class="acir" cx="3376" cy="162" r="20.5"/><circle class="acir" cx="3510" cy="162" r="20.5"/><circle class="acir" cx="3618" cy="162" r="20.5"/><circle class="acir" cx="3752" cy="162" r="20.5"/><circle class="acir" cx="3927" cy="162" r="20.5"/><circle class="acir" cx="4311" cy="162" r="20.5"/>
<circle class="acir" cx="506" cy="2183" r="20.5"/><circle class="acir" cx="890" cy="2183" r="20.5"/><circle class="acir" cx="1065" cy="2183" r="20.5"/><circle class="acir" cx="1199" cy="2183" r="20.5"/><circle class="acir" cx="1307" cy="2183" r="20.5"/><circle class="acir" cx="1441" cy="2183" r="20.5"/><circle class="acir" cx="1616" cy="2183" r="20.5"/><circle class="acir" cx="2000" cy="2183" r="20.5"/>
<circle class="acir" cx="2817" cy="2183" r="20.5"/><circle class="acir" cx="3201" cy="2183" r="20.5"/><circle class="acir" cx="3376" cy="2183" r="20.5"/><circle class="acir" cx="3510" cy="2183" r="20.5"/><circle class="acir" cx="3618" cy="2183" r="20.5"/><circle class="acir" cx="3752" cy="2183" r="20.5"/><circle class="acir" cx="3927" cy="2183" r="20.5"/><circle class="acir" cx="4311" cy="2183" r="20.5"/>
</g>
<g>
<text class="ax" x="506" y="173">1</text><text class="ax" x="890" y="173">2</text><text class="ax" x="1065" y="173">3</text><text class="ax" x="1199" y="173">4</text><text class="ax" x="1307" y="173">5</text><text class="ax" x="1441" y="173">6</text><text class="ax" x="1616" y="173">7</text><text class="ax" x="2000" y="173">8</text>
<text class="ax" x="2817" y="173">9</text><text class="ax" x="3201" y="173" style="font-size:27px">10</text><text class="ax" x="3376" y="173" style="font-size:27px">11</text><text class="ax" x="3510" y="173" style="font-size:27px">12</text><text class="ax" x="3618" y="173" style="font-size:27px">13</text><text class="ax" x="3752" y="173" style="font-size:27px">14</text><text class="ax" x="3927" y="173" style="font-size:27px">15</text><text class="ax" x="4311" y="173" style="font-size:27px">16</text>
<text class="ax" x="506" y="2194">1</text><text class="ax" x="890" y="2194">2</text><text class="ax" x="1065" y="2194">3</text><text class="ax" x="1199" y="2194">4</text><text class="ax" x="1307" y="2194">5</text><text class="ax" x="1441" y="2194">6</text><text class="ax" x="1616" y="2194">7</text><text class="ax" x="2000" y="2194">8</text>
<text class="ax" x="2817" y="2194">9</text><text class="ax" x="3201" y="2194" style="font-size:27px">10</text><text class="ax" x="3376" y="2194" style="font-size:27px">11</text><text class="ax" x="3510" y="2194" style="font-size:27px">12</text><text class="ax" x="3618" y="2194" style="font-size:27px">13</text><text class="ax" x="3752" y="2194" style="font-size:27px">14</text><text class="ax" x="3927" y="2194" style="font-size:27px">15</text><text class="ax" x="4311" y="2194" style="font-size:27px">16</text>
</g>

<!-- row bubbles -->
<g>
<circle class="acir" cx="162" cy="493" r="20.5"/><circle class="acir" cx="162" cy="782" r="20.5"/><circle class="acir" cx="162" cy="827" r="20.5"/><circle class="acir" cx="162" cy="951" r="20.5"/><circle class="acir" cx="162" cy="1049" r="20.5"/><circle class="acir" cx="162" cy="1095" r="20.5"/><circle class="acir" cx="162" cy="1250" r="20.5"/><circle class="acir" cx="162" cy="1394" r="20.5"/><circle class="acir" cx="162" cy="1518" r="20.5"/><circle class="acir" cx="162" cy="1563" r="20.5"/><circle class="acir" cx="162" cy="1852" r="20.5"/>
<circle class="acir" cx="4638" cy="493" r="20.5"/><circle class="acir" cx="4638" cy="782" r="20.5"/><circle class="acir" cx="4638" cy="827" r="20.5"/><circle class="acir" cx="4638" cy="951" r="20.5"/><circle class="acir" cx="4638" cy="1049" r="20.5"/><circle class="acir" cx="4638" cy="1095" r="20.5"/><circle class="acir" cx="4638" cy="1250" r="20.5"/><circle class="acir" cx="4638" cy="1394" r="20.5"/><circle class="acir" cx="4638" cy="1518" r="20.5"/><circle class="acir" cx="4638" cy="1563" r="20.5"/><circle class="acir" cx="4638" cy="1852" r="20.5"/>
<text class="ax" x="162" y="504">L</text><text class="ax" x="162" y="793">K</text><text class="ax" x="162" y="838">J</text><text class="ax" x="162" y="962">H</text><text class="ax" x="162" y="1060">G</text><text class="ax" x="162" y="1106">F</text><text class="ax" x="162" y="1261">E</text><text class="ax" x="162" y="1405">D</text><text class="ax" x="162" y="1529">C</text><text class="ax" x="162" y="1574">B</text><text class="ax" x="162" y="1863">A</text>
<text class="ax" x="4638" y="504">L</text><text class="ax" x="4638" y="793">K</text><text class="ax" x="4638" y="838">J</text><text class="ax" x="4638" y="962">H</text><text class="ax" x="4638" y="1060">G</text><text class="ax" x="4638" y="1106">F</text><text class="ax" x="4638" y="1261">E</text><text class="ax" x="4638" y="1405">D</text><text class="ax" x="4638" y="1529">C</text><text class="ax" x="4638" y="1574">B</text><text class="ax" x="4638" y="1863">A</text>
</g>

<!-- right building note -->
<path class="g" d="M3578 961L3625 918H3698"/>
<circle cx="3723" cy="910" r="25" fill="none" stroke="#00ff00" stroke-width="2"/>
<path d="M3710 901H3736" stroke="#000" stroke-width="1.5"/>
<text class="n" x="3723" y="929" style="font-size:17px">43</text>
<text class="c" x="3649" y="903" style="font-size:17px">设置隔声减震层</text>
<text class="c" x="3628" y="930" style="font-size:17px">国标13J404（针刺毡）</text>

<!-- title -->
<text class="st" x="1654" y="2316" textLength="249" lengthAdjust="spacingAndGlyphs" style="font-family:'Noto Serif CJK SC','Liberation Serif',serif;font-size:72px;fill:#0000ff">东方美寓</text>
<text class="st" x="1944" y="2312" textLength="693" lengthAdjust="spacingAndGlyphs" style="font-family:'Noto Sans CJK SC',sans-serif;font-weight:bold;font-size:74px;fill:#000">三至二十五层平面图</text>
<rect x="1940" y="2323" width="705" height="8" fill="#00ff00"/>
<text class="st" x="2665" y="2315" textLength="129" lengthAdjust="spacingAndGlyphs" style="font-family:'Noto Sans CJK SC',sans-serif;font-size:26px;fill:#ff0000">(拟修改后)</text>
<text class="st" x="2255" y="2378" textLength="298" lengthAdjust="spacingAndGlyphs" style="font-family:'Liberation Serif','Noto Serif CJK SC',serif;font-size:22px">本层建筑面积：1464.23平方米</text>
<text class="st" x="2255" y="2412" textLength="298" lengthAdjust="spacingAndGlyphs" style="font-family:'Liberation Serif','Noto Serif CJK SC',serif;font-size:22px">本层计容面积：1464.23平方米</text>
</svg>
</body></html>
